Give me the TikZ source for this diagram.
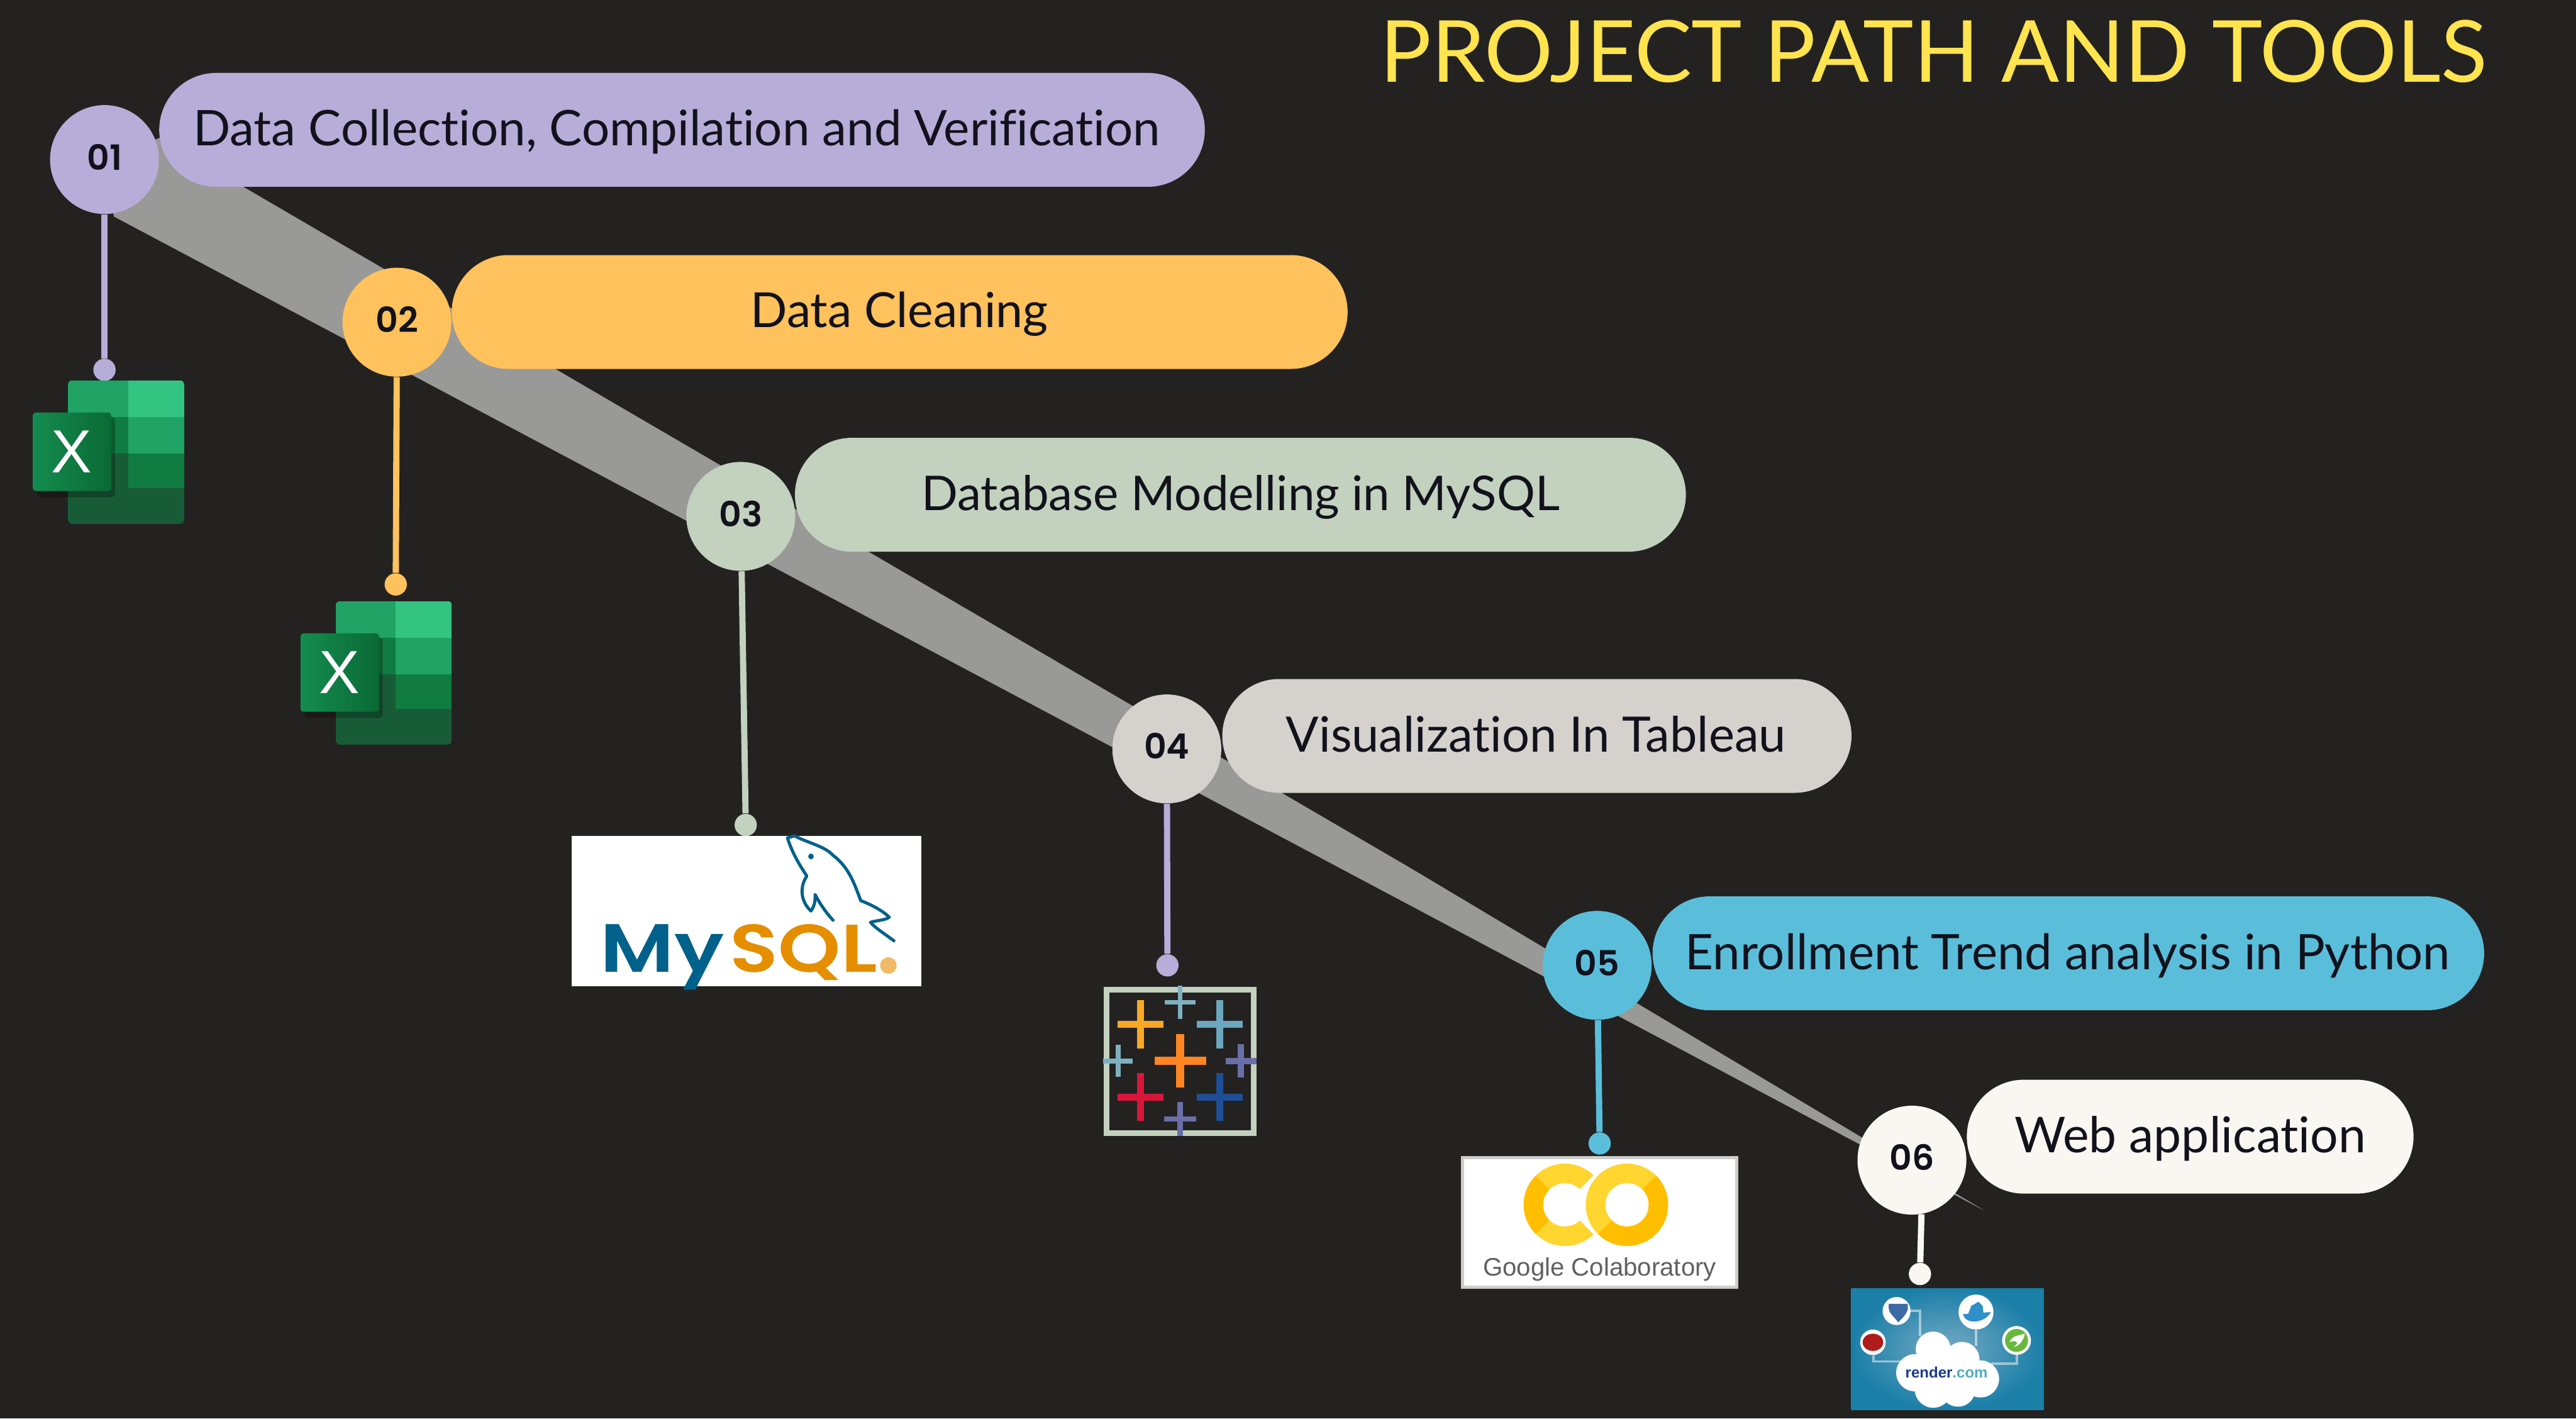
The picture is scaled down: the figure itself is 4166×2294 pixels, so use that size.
\documentclass[tikz,border=0pt]{standalone}
\usepackage{fontspec}
\usepackage{graphicx}
\usetikzlibrary{shapes.misc,shadings}
\setmainfont{Lato}[RawFeature={-liga}]
\newfontfamily\numfont{Poppins SemiBold}
\newfontfamily\arialfont{Liberation Sans}
\definecolor{bgc}{HTML}{232221}
\definecolor{bandc}{HTML}{999998}
\definecolor{inkc}{HTML}{12121C}
\definecolor{ca}{HTML}{B7ADD9}
\definecolor{cb}{HTML}{FFC25C}
\definecolor{cc}{HTML}{C3D1BF}
\definecolor{cd}{HTML}{D5D1CD}
\definecolor{ce}{HTML}{5ABEDB}
\definecolor{cf}{HTML}{FAF6F2}
\definecolor{titlec}{HTML}{FFE44F}
\definecolor{mysqlblue}{HTML}{00618A}
\definecolor{mysqlorange}{HTML}{E48E00}
\definecolor{colabl}{HTML}{FFD530}
\definecolor{colabd}{HTML}{FFBF00}
\definecolor{taborange}{HTML}{FF8522}
\definecolor{tabamber}{HTML}{F9A825}
\definecolor{tabteal}{HTML}{6CA6BF}
\definecolor{tabred}{HTML}{D9163A}
\definecolor{tabblue}{HTML}{1F4E96}
\definecolor{tabsteal}{HTML}{7FB0C0}
\definecolor{tabpurple}{HTML}{6A6FA8}
\tikzset{
  pill/.style={rounded rectangle,inner sep=0pt,minimum height=1.84cm},
  numdisc/.style={circle,inner sep=0pt,minimum size=1.76cm},
  numtxt/.style={anchor=base,inner sep=0pt,text=inkc,font=\numfont\fontsize{16}{17}\selectfont},
  lbl/.style={anchor=base,inner sep=0pt,text=inkc},
  stem/.style={line width=0.1cm},
  enddot/.style={circle,inner sep=0pt,minimum size=0.36cm},
  rline/.style={white,opacity=0.5,line width=0.04cm},
}
\newcommand{\fitw}[2]{\resizebox{#1cm}{!}{#2}}
\newcommand{\excelicon}[3]{%
  \begin{scope}[shift={(#2,#3)}]
    \begin{scope}
      \clip[rounded corners=0.07cm] (110,615) rectangle (298,847);
      \fill[color={rgb,255:red,33;green,163;blue,102}] (110,615) rectangle (207,674);
      \fill[color={rgb,255:red,51;green,196;blue,129}] (207,615) rectangle (298,674);
      \fill[color={rgb,255:red,16;green,124;blue,65}] (110,674) rectangle (207,733);
      \fill[color={rgb,255:red,33;green,163;blue,102}] (207,674) rectangle (298,733);
      \fill[color={rgb,255:red,24;green,92;blue,55}] (110,733) rectangle (207,789);
      \fill[color={rgb,255:red,16;green,124;blue,65}] (207,733) rectangle (298,789);
      \fill[color={rgb,255:red,24;green,92;blue,55}] (110,789) rectangle (298,847);
    \end{scope}
    \fill[black,opacity=0.25,rounded corners=0.05cm] (60,674) rectangle (186,804);
    \shade[left color={rgb,255:red,20;green,140;blue,80},right color={rgb,255:red,10;green,105;blue,52},rounded corners=0.05cm] (53,667) rectangle (180,794);
    \node[inner sep=0pt,text=white,font=\arialfont\fontsize{28}{29}\selectfont] (#1) at (116,730) {X};
  \end{scope}}
\newcommand{\tabcross}[6]{%
  \fill[#6] ({#1-#3},{#2-#5/2}) rectangle ({#1+#3},{#2+#5/2});
  \fill[#6] ({#1-#5/2},{#2-#4}) rectangle ({#1+#5/2},{#2+#4});}
\begin{document}
\begin{tikzpicture}[x=0.01cm,y=-0.01cm]
\useasboundingbox (0,0) rectangle (4166,2294);
\fill[bgc] (0,0) rectangle (4166,2294);
% band
\fill[bandc] (258,223) -- (2280,1403) -- (3210,1958) -- (184,350) -- (169,258) -- cycle;
% title
\node[anchor=base west,inner sep=0pt,text=titlec] (title) at (2231,133) {\fitw{17.89}{PROJECT PATH AND TOOLS}};
% pills
\node[pill,fill=ca,minimum width=16.90cm] (p1) at (1103,210) {};
\node[pill,fill=cb,minimum width=14.48cm] (p2) at (1455,504.5) {};
\node[pill,fill=cc,minimum width=14.40cm] (p3) at (2006,800) {};
\node[pill,fill=cd,minimum width=10.17cm] (p4) at (2485.5,1190) {};
\node[pill,fill=ce,minimum width=13.44cm] (p5) at (3345,1541.5) {};
\node[pill,fill=cf,minimum width=7.22cm] (p6) at (3542,1838) {};
% pill texts
\node[lbl] (t1) at (1094.5,235) {\fitw{15.63}{Data Collection, Compilation and Verification}};
\node[lbl] (t2) at (1454.5,529) {\fitw{4.81}{Data Cleaning}};
\node[lbl] (t3) at (2006.5,825) {\fitw{10.31}{Database Modelling in MySQL}};
\node[lbl] (t4) at (2484,1216) {\fitw{8.08}{Visualization In Tableau}};
\node[lbl] (t5) at (3344,1568) {\fitw{12.36}{Enrollment Trend analysis in Python}};
\node[lbl] (t6) at (3542,1864) {\fitw{5.68}{Web application}};
% discs
\node[numdisc,fill=ca] (c1) at (169,258) {};
\node[numdisc,fill=cb] (c2) at (642,521) {};
\node[numdisc,fill=cc] (c3) at (1198,835) {};
\node[numdisc,fill=cd] (c4) at (1887,1211) {};
\node[numdisc,fill=ce] (c5) at (2583,1561) {};
\node[numdisc,fill=cf] (c6) at (3092,1876) {};
\node[numtxt] (n1) at (169,275) {01};
\node[numtxt] (n2) at (642,538) {02};
\node[numtxt] (n3) at (1198,852) {03};
\node[numtxt] (n4) at (1887,1227) {04};
\node[numtxt] (n5) at (2583,1578) {05};
\node[numtxt] (n6) at (3092,1892) {06};
% dots
\node[enddot,fill=ca] (d1) at (169,598) {};
\node[enddot,fill=cb] (d2) at (640,945) {};
\node[enddot,fill=cc] (d3) at (1206,1334) {};
\node[enddot,fill=ca] (d4) at (1888,1561) {};
\node[enddot,fill=ce] (d5) at (2587,1849) {};
\node[enddot,fill=cf] (d6) at (3105,2060) {};
% stems
\draw[stem,ca] (c1) -- (d1);
\draw[stem,cb] (c2) -- (d2);
\draw[stem,cc] (c3) -- (d3);
\draw[stem,ca] (c4) -- (d4);
\draw[stem,ce] (c5) -- (d5);
\draw[stem,cf] (c6.280) -- (d6);
% excel
\excelicon{xa}{0}{0}
\excelicon{xb}{433}{357}
% mysql
\fill[white] (925,1352) rectangle (1490,1595);
\node[anchor=base west,inner sep=0pt,text=mysqlblue] (my) at (970,1572) {\fitw{2.00}{\scalebox{1}[0.83]{\numfont My}}};
\node[anchor=base west,inner sep=0pt,text=mysqlorange] (sq) at (1180,1572) {\fitw{2.38}{\scalebox{1}[0.85]{\numfont SQL}}};
\begin{scope}[shift={(900,1300)},x=0.004464cm,y=-0.003333cm]
  \fill[mysqlorange!60!white] (1200,785) circle[x radius=30,y radius=40];
  \draw[mysqlblue,line width=0.05cm,line join=round,line cap=round]
    (1220,665) .. controls (1180,625) and (1150,600) .. (1135,575)
    .. controls (1160,565) and (1190,565) .. (1203,550)
    .. controls (1180,520) and (1140,490) .. (1100,470)
    .. controls (1080,400) and (1060,310) .. (1000,250)
    .. controls (970,205) and (910,190) .. (860,155)
    -- (835,165)
    .. controls (850,230) and (875,290) .. (905,350)
    .. controls (880,400) and (880,470) .. (920,520)
    .. controls (935,490) and (935,470) .. (935,440)
    .. controls (950,480) and (975,530) .. (1000,565);
  \fill[mysqlblue] (920,255) circle[x radius=10,y radius=14];
\end{scope}
% tableau
\begin{scope}[shift={(1750,1550)},x=0.003333cm,y=-0.003333cm]
  \draw[cc,line width=0.09cm] (118,152) rectangle (835,848);
  \tabcross{477}{497}{125}{130}{40}{taborange}
  \tabcross{283}{320}{112}{117}{34}{tabamber}
  \tabcross{668}{320}{112}{117}{34}{tabteal}
  \tabcross{283}{673}{112}{117}{34}{tabred}
  \tabcross{668}{673}{112}{117}{34}{tabblue}
  \tabcross{477}{213}{75}{80}{22}{tabsteal}
  \tabcross{175}{497}{72}{78}{24}{tabsteal}
  \tabcross{772}{497}{75}{82}{30}{tabpurple}
  \tabcross{477}{780}{78}{82}{26}{tabpurple}
\end{scope}
% colab
\draw[color={rgb,255:red,205;green,205;blue,205},fill=white,line width=0.05cm] (2365,1872) rectangle (2809,2081);
\begin{scope}[shift={(2330,1840)},x=0.003333cm,y=-0.003333cm]
  \begin{scope}
    \clip (603,325) circle[radius=200];
    \fill[colabl] (400,100) rectangle (810,550);
    \fill[colabd] (603,325) -- (303,25) -- (303,625) -- cycle;
  \end{scope}
  \fill[white] (603,325) circle[radius=105];
  \fill[white] (603,325) -- (813,108) -- (813,542) -- cycle;
  \fill[white] (905,325) circle[radius=216];
  \begin{scope}
    \clip (905,325) circle[radius=200];
    \fill[colabl] (700,100) rectangle (1110,550);
    \fill[colabd] (905,325) -- (1205,25) -- (1205,625) -- (605,625) -- cycle;
  \end{scope}
  \fill[white] (905,325) circle[radius=105];
\end{scope}
\node[anchor=base,inner sep=0pt,text=black!62] (colabt) at (2587,2063) {\fitw{3.77}{\arialfont Google Colaboratory}};
% render
\shade[inner color={rgb,255:red,118;green,170;blue,196},outer color={rgb,255:red,27;green,127;blue,168}] (2994,2083) rectangle (3305,2280);
\begin{scope}[shift={(2980,2070)},x=0.003333cm,y=-0.003333cm]
  \draw[rline] (330,150) -- (375,150) -- (375,270);
  \draw[rline] (150,365) -- (150,395) -- (280,395);
  \draw[rline] (648,240) -- (648,320);
  \draw[rline] (848,360) -- (848,405) -- (720,405);
  \fill[white] (262,150) circle[radius=68];
  \fill[white] (648,155) circle[radius=85];
  \fill[white] (147,302) circle[radius=62];
  \fill[white] (845,293) circle[radius=70];
  \fill[color={rgb,255:red,59;green,106;blue,165}] (225,115) -- (315,115) .. controls (325,150) and (300,175) .. (270,205) .. controls (250,175) and (215,160) .. cycle;
  \fill[color={rgb,255:red,47;green,143;blue,200}] (585,165) -- (720,155) .. controls (700,195) and (650,205) .. (625,200) .. controls (600,195) and (590,185) .. cycle;
  \fill[color={rgb,255:red,47;green,143;blue,200}] (610,165) -- (625,125) -- (660,105) -- (680,125) -- (685,165) -- cycle;
  \fill[color={rgb,255:red,176;green,28;blue,28}] (147,302) circle[x radius=50,y radius=42];
  \fill[color={rgb,255:red,104;green,184;blue,60}] (845,293) circle[radius=56];
  \fill[white] (810,300) .. controls (830,265) and (860,270) .. (885,260) .. controls (880,290) and (860,320) .. (830,325) .. controls (860,305) and (850,290) .. cycle;
  \foreach \cx/\cy/\cr in {440/335/85,580/385/85,350/450/90,670/480/90,440/530/90,560/530/85,500/450/120} {
    \fill[white] (\cx,\cy) circle[radius=\cr];
  }
\end{scope}
\node[anchor=base,inner sep=0pt] (rendert) at (3148,2228) {\fitw{1.33}{\arialfont\bfseries\textcolor{ce!50!blue!60!black}{render}\textcolor{ce!90!black}{.com}}};
\end{tikzpicture}
\end{document}
